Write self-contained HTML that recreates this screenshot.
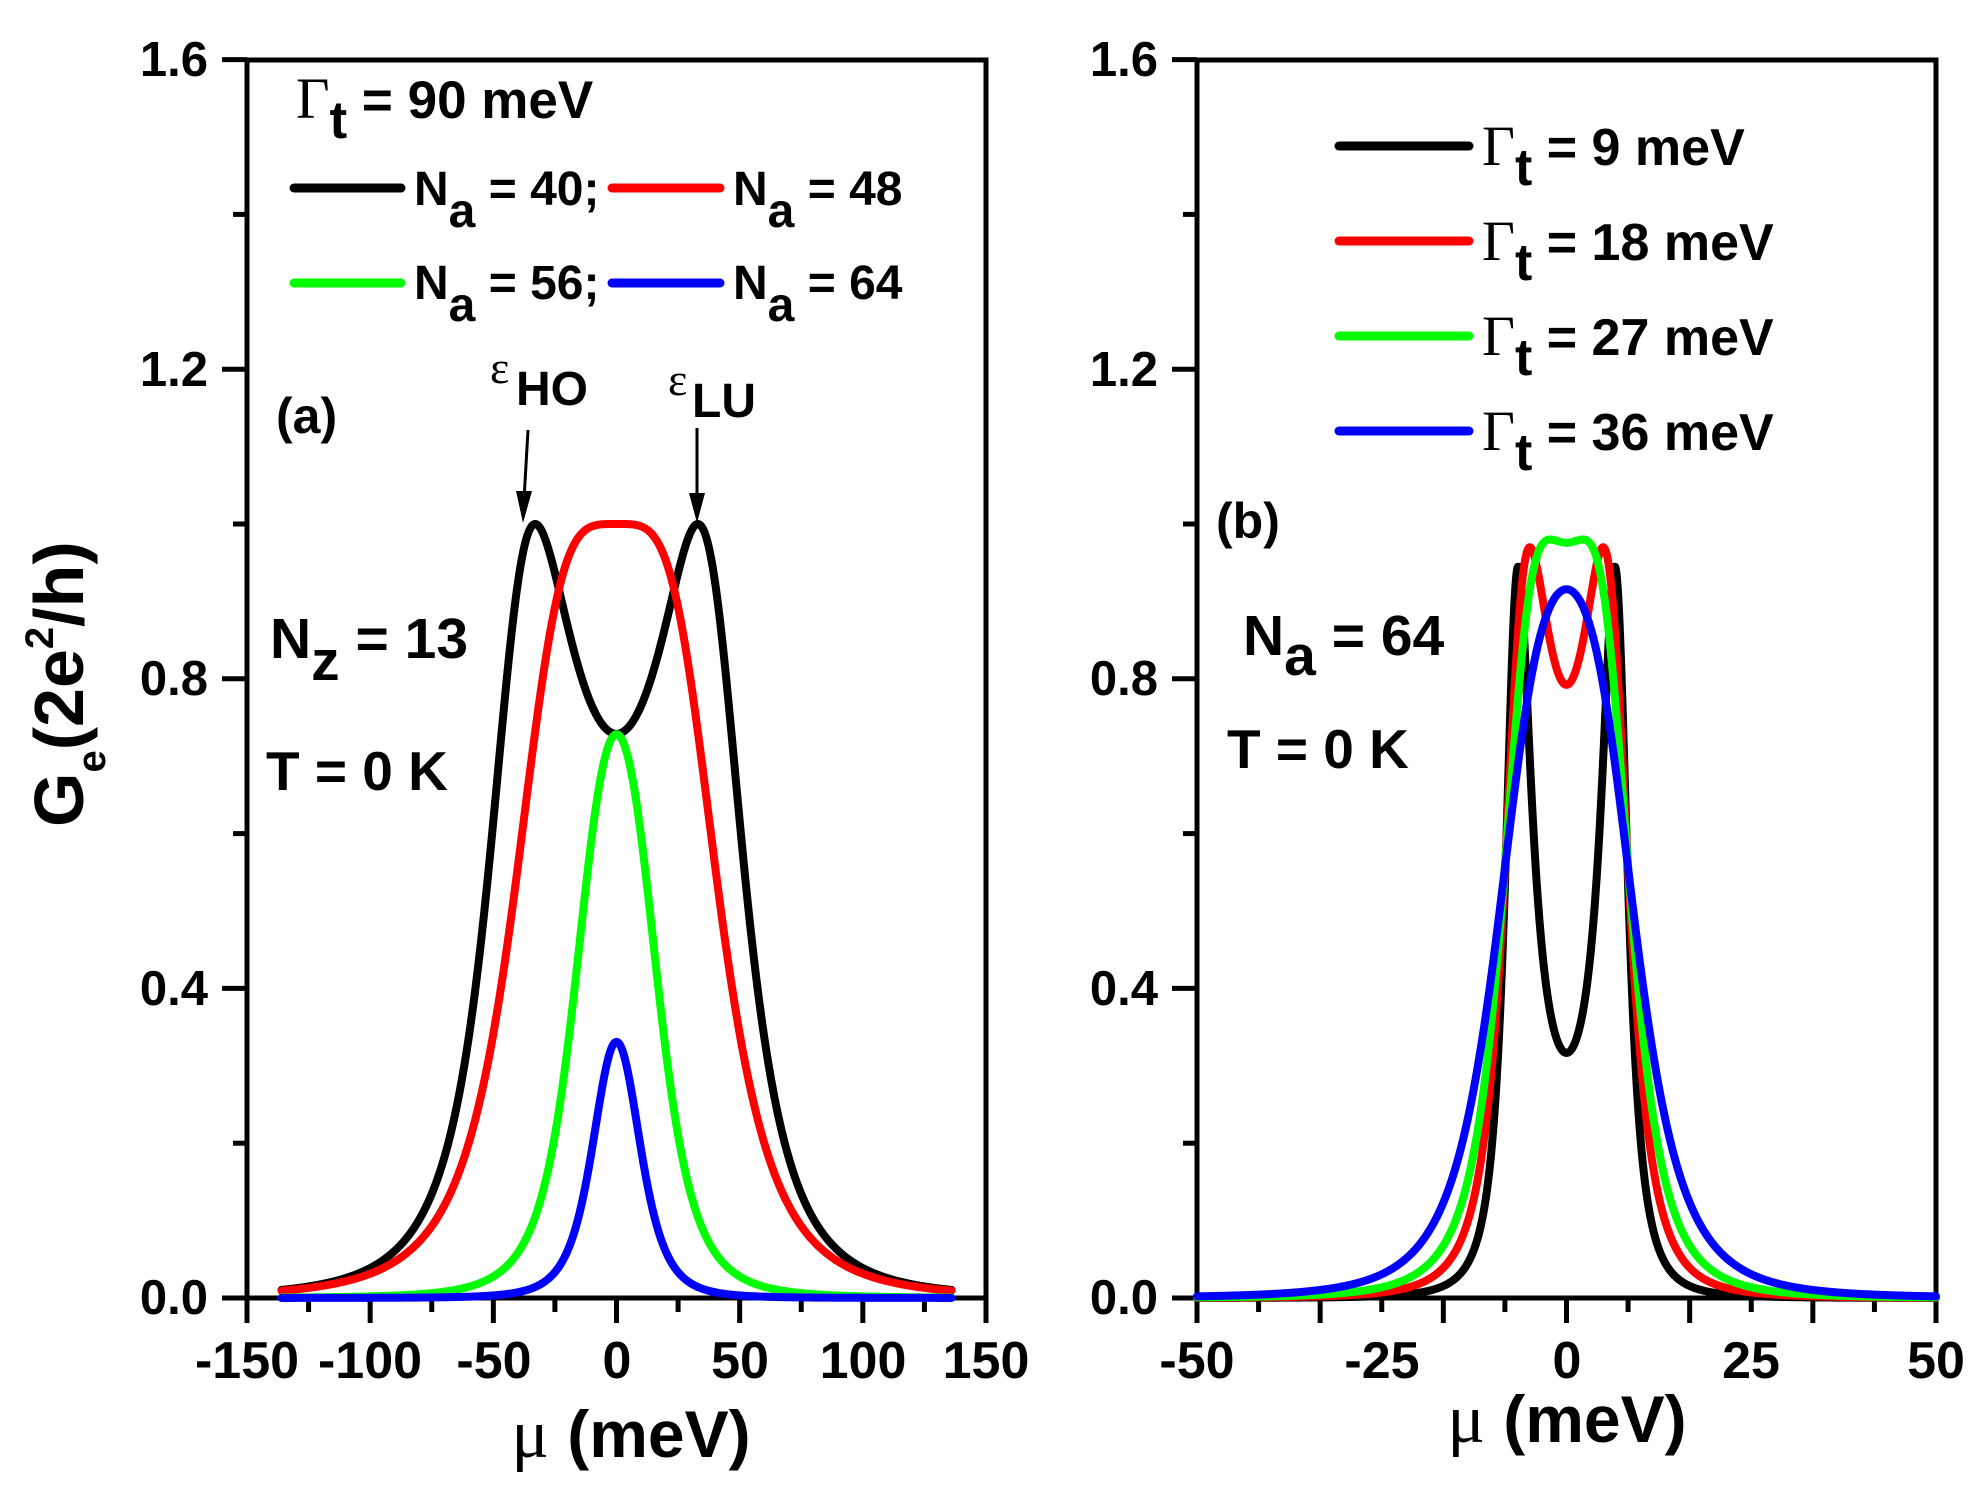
<!DOCTYPE html>
<html><head><meta charset="utf-8"><style>
html,body{margin:0;padding:0;background:#fff;}
svg{display:block;}
text{font-family:"Liberation Sans",Arial,sans-serif;font-weight:bold;fill:#000;}
.g{font-family:"Liberation Serif",serif;font-weight:normal;}
</style></head><body>
<svg id="s" width="1980" height="1498" viewBox="0 0 1980 1498" xmlns="http://www.w3.org/2000/svg">
<g id="axes" stroke="#000" stroke-width="5" fill="none" stroke-linecap="butt">
<rect x="247" y="60" width="739" height="1238"/>
<rect x="1197" y="60" width="739" height="1238"/>
</g>
<g id="ticks" stroke="#000" stroke-width="5"></g>
<g id="curves" fill="none" stroke-width="8" stroke-linejoin="round" stroke-linecap="round"></g>

<g font-size="49" text-anchor="end">
<text x="208" y="76">1.6</text><text x="208" y="386">1.2</text><text x="208" y="695">0.8</text><text x="208" y="1005">0.4</text><text x="208" y="1314">0.0</text>
<text x="1158" y="76">1.6</text><text x="1158" y="386">1.2</text><text x="1158" y="695">0.8</text><text x="1158" y="1005">0.4</text><text x="1158" y="1314">0.0</text>
</g>
<g font-size="52" text-anchor="middle">
<text x="247" y="1378">-150</text><text x="370" y="1378">-100</text><text x="494" y="1378">-50</text><text x="617" y="1378">0</text><text x="740" y="1378">50</text><text x="863" y="1378">100</text><text x="986" y="1378">150</text>
<text x="1197" y="1378">-50</text><text x="1382" y="1378">-25</text><text x="1567" y="1378">0</text><text x="1751" y="1378">25</text><text x="1936" y="1378">50</text>
</g>
<text x="631" y="1457" font-size="66" text-anchor="middle"><tspan class="g" font-size="70">μ</tspan> (meV)</text>
<text x="1567" y="1442" font-size="66" text-anchor="middle"><tspan class="g" font-size="70">μ</tspan> (meV)</text>
<text transform="translate(83,827) rotate(-90)" font-size="70">G<tspan font-size="40" dy="22">e</tspan><tspan dy="-22">(2e</tspan><tspan font-size="40" dy="-30">2</tspan><tspan dy="30">/h)</tspan></text>

<text x="296" y="118" font-size="53"><tspan class="g" font-size="58">Γ</tspan><tspan dy="20">t</tspan><tspan dy="-20"> = 90 meV</tspan></text>
<g stroke-width="9" stroke-linecap="round">
<line x1="294" y1="188" x2="401" y2="188" stroke="#000"/>
<line x1="612" y1="188" x2="720" y2="188" stroke="#f00"/>
<line x1="294" y1="283" x2="401" y2="283" stroke="#0f0"/>
<line x1="612" y1="283" x2="720" y2="283" stroke="#00f"/>
</g>
<g font-size="48">
<text x="414" y="205">N<tspan dy="22">a</tspan><tspan dy="-22"> = 40;</tspan></text>
<text x="733" y="205">N<tspan dy="22">a</tspan><tspan dy="-22"> = 48</tspan></text>
<text x="414" y="299">N<tspan dy="22">a</tspan><tspan dy="-22"> = 56;</tspan></text>
<text x="733" y="299">N<tspan dy="22">a</tspan><tspan dy="-22"> = 64</tspan></text>
</g>
<text x="276" y="433" font-size="50">(a)</text>
<text x="490" y="383" font-size="46" class="g">ε</text><text x="516" y="405" font-size="48">HO</text>
<text x="668" y="395" font-size="46" class="g">ε</text><text x="692" y="417" font-size="48">LU</text>
<g stroke="#000" stroke-width="3"><line x1="528" y1="430" x2="524" y2="500"/><line x1="697" y1="428" x2="697" y2="500"/></g>
<polygon points="516,491 532,491 523,523" fill="#000"/>
<polygon points="689,493 705,493 697,523" fill="#000"/>
<text x="270" y="658" font-size="57">N<tspan dy="22">z</tspan><tspan dy="-22"> = 13</tspan></text>
<text x="266" y="790" font-size="55">T = 0 K</text>

<g stroke-width="9" stroke-linecap="round">
<line x1="1339" y1="146" x2="1469" y2="146" stroke="#000"/>
<line x1="1339" y1="241" x2="1469" y2="241" stroke="#f00"/>
<line x1="1339" y1="336" x2="1469" y2="336" stroke="#0f0"/>
<line x1="1339" y1="431" x2="1469" y2="431" stroke="#00f"/>
</g>
<g font-size="52">
<text x="1482" y="165"><tspan class="g" font-size="57">Γ</tspan><tspan dy="20">t</tspan><tspan dy="-20"> = 9 meV</tspan></text>
<text x="1482" y="260"><tspan class="g" font-size="57">Γ</tspan><tspan dy="20">t</tspan><tspan dy="-20"> = 18 meV</tspan></text>
<text x="1482" y="355"><tspan class="g" font-size="57">Γ</tspan><tspan dy="20">t</tspan><tspan dy="-20"> = 27 meV</tspan></text>
<text x="1482" y="450"><tspan class="g" font-size="57">Γ</tspan><tspan dy="20">t</tspan><tspan dy="-20"> = 36 meV</tspan></text>
</g>
<text x="1216" y="538" font-size="50">(b)</text>
<text x="1243" y="655" font-size="57">N<tspan dy="20">a</tspan><tspan dy="-20"> = 64</tspan></text>
<text x="1227" y="768" font-size="55">T = 0 K</text>
</svg>
<script>
(function(){
var NS="http://www.w3.org/2000/svg";
var tk=document.getElementById("ticks"),cv=document.getElementById("curves");
function ln(x1,y1,x2,y2){var l=document.createElementNS(NS,"line");l.setAttribute("x1",x1);l.setAttribute("y1",y1);l.setAttribute("x2",x2);l.setAttribute("y2",y2);tk.appendChild(l);}
function Y(v){return 1298-v*774;}
[247,1197].forEach(function(x0){
 for(var i=0;i<=8;i++){var y=Y(i*0.2);ln(x0-(i%2==0?25:14),y,x0,y);}
 for(var j=0;j<=12;j++){var x=x0+j*739/12;ln(x,1298,x,1298+(j%2==0?25:14));}
});
function G(E,t,g){var a=E*E-t*t-g*g;return 4*g*g*t*t/(a*a+4*E*E*g*g);}
function curve(x0,sc,lo,hi,t,g,k,col){
 var d="";for(var E=lo;E<=hi+1e-9;E+=(hi-lo)/1200){var x=x0+E*sc,y=Y(k*G(E,t,g));d+=(d?"L":"M")+x.toFixed(2)+" "+y.toFixed(2);}
 var p=document.createElementNS(NS,"path");p.setAttribute("d",d);p.setAttribute("stroke",col);cv.appendChild(p);}
var xa=616.5,sa=739/300;
curve(xa,sa,-136,136,39.9,22.4,1,"#000");
curve(xa,sa,-136,136,30,30,1,"#f00");
curve(xa,sa,-136,136,11.5,20.5,1,"#0f0");
curve(xa,sa,-136,136,5,15.8,1,"#00f");
var xb=1566.5,sb=739/100;
curve(xb,sb,-50,50,6.9,2.2,0.945,"#000");
curve(xb,sb,-50,50,6.4,4.05,0.97,"#f00");
curve(xb,sb,-50,50,6.3,5.9,0.98,"#0f0");
curve(xb,sb,-50,50,6.6,8.9,1,"#00f");
})();
</script>
</body></html>
